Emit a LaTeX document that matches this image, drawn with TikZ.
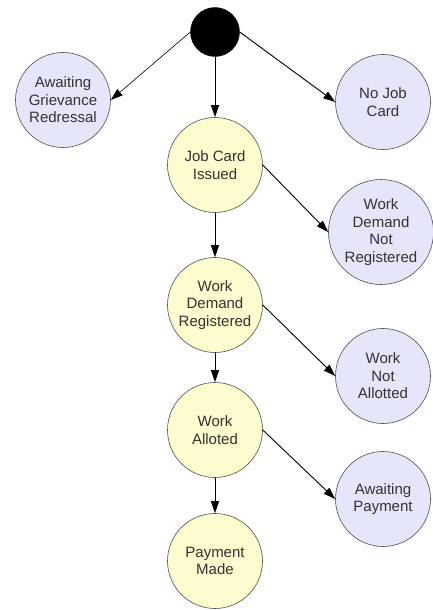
\documentclass[tikz,border=0pt]{standalone}
\usepackage{xcolor}
\usepackage{fontspec}
\setmainfont{Liberation Sans}
\usepackage{tikz}
\usetikzlibrary{arrows.meta}

\begin{document}
\begin{tikzpicture}[x=1pt,y=-1pt,
  state/.style={circle,minimum size=95pt,inner sep=0pt,align=center,draw={rgb,255:red,80;green,80;blue,80},line width=0.6pt,text={rgb,255:red,50;green,50;blue,50},font=\fontsize{15}{17.5}\selectfont},
  okstate/.style={state,fill={rgb,255:red,252;green,252;blue,206}},
  badstate/.style={state,fill={rgb,255:red,230;green,230;blue,250}},
  flow/.style={draw=black,line width=0.9pt,-{Triangle[length=12pt,width=8pt]}}]
\path[use as bounding box] (0,0) rectangle (432,610);
\path[fill=white,draw=none] (0,0) rectangle (432,610);
\node[circle,fill=black,draw=black,minimum size=49pt,inner sep=0pt] (start) at (215,32) {};
\node[badstate] (grievance) at (63,100) {Awaiting\\Grievance\\Redressal};
\node[badstate] (nocard) at (383,102) {No Job\\Card};
\node[okstate] (issued) at (215,165) {Job Card\\Issued};
\node[badstate,minimum size=105pt] (notreg) at (381,232) {Work\\Demand\\Not\\Registered};
\node[okstate] (registered) at (215,305) {Work\\Demand\\Registered};
\node[badstate] (notallot) at (383,376) {Work\\Not\\Allotted};
\node[okstate] (alloted) at (215,430) {Work\\Alloted};
\node[badstate] (awaitpay) at (383,499) {Awaiting\\Payment};
\node[okstate] (paid) at (215,561) {Payment\\Made};
\draw[flow,line width=0.6pt] (start.west) -- (grievance.east);
\draw[flow] (start.east) -- (nocard.west);
\draw[flow] (start.south) -- (issued.north);
\draw[flow] (issued.east) -- (notreg.west);
\draw[flow] (issued.south) -- (registered.north);
\draw[flow] (registered.east) -- (notallot.west);
\draw[flow] (registered.south) -- (alloted.north);
\draw[flow] (alloted.east) -- (awaitpay.west);
\draw[flow] (alloted.south) -- (paid.north);
\end{tikzpicture}
\end{document}
